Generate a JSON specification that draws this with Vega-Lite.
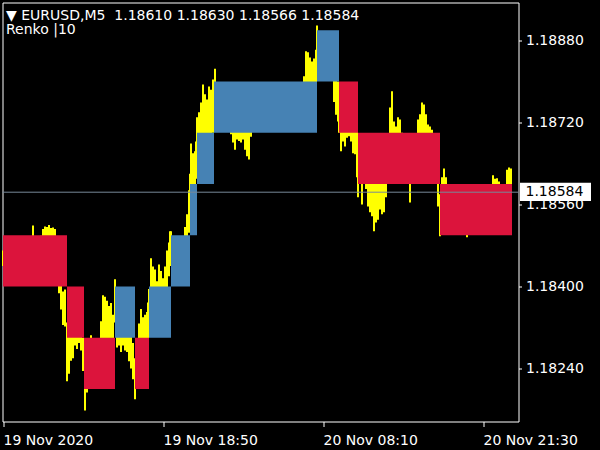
{
"$schema": "https://vega.github.io/schema/vega-lite/v6.json",
"width": 516,
"height": 419,
"autosize": {"type": "none"},
"padding": {"left": 2.5, "top": 2.5, "right": 81.5, "bottom": 28.5},
"background": "black",
"config": {"view": {"stroke": "white", "strokeWidth": 1, "fill": "black"}, "font": "DejaVu Sans"},
"title": {"text": "▼\u00a0EURUSD,M5\u00a0\u00a01.18610 1.18630 1.18566 1.18584", "subtitle": "Renko |10", "anchor": "start", "frame": "group", "orient": "top", "offset": -34, "dx": 3.5, "color": "white", "subtitleColor": "white", "font": "DejaVu Sans", "subtitleFont": "DejaVu Sans", "fontSize": 14, "subtitleFontSize": 14, "fontWeight": "normal", "subtitleFontWeight": "normal", "subtitlePadding": 0},
"datasets": {
"bars": [
{"t":"2020-11-19T05:30Z","low":1.18440,"high":1.18470},
{"t":"2020-11-19T05:40Z","low":1.18430,"high":1.18460},
{"t":"2020-11-19T05:50Z","low":1.18420,"high":1.18455},
{"t":"2020-11-19T06:00Z","low":1.18430,"high":1.18465},
{"t":"2020-11-19T06:10Z","low":1.18445,"high":1.18475},
{"t":"2020-11-19T06:20Z","low":1.18450,"high":1.18480},
{"t":"2020-11-19T06:30Z","low":1.18440,"high":1.18470},
{"t":"2020-11-19T06:40Z","low":1.18430,"high":1.18462},
{"t":"2020-11-19T06:50Z","low":1.18425,"high":1.18455},
{"t":"2020-11-19T07:00Z","low":1.18435,"high":1.18470},
{"t":"2020-11-19T07:10Z","low":1.18450,"high":1.18482},
{"t":"2020-11-19T07:20Z","low":1.18460,"high":1.18490},
{"t":"2020-11-19T07:30Z","low":1.18455,"high":1.18488},
{"t":"2020-11-19T07:40Z","low":1.18465,"high":1.18495},
{"t":"2020-11-19T07:50Z","low":1.18470,"high":1.18498},
{"t":"2020-11-19T08:00Z","low":1.18480,"high":1.18519},
{"t":"2020-11-19T08:10Z","low":1.18470,"high":1.18495},
{"t":"2020-11-19T08:20Z","low":1.18460,"high":1.18490},
{"t":"2020-11-19T08:30Z","low":1.18465,"high":1.18494},
{"t":"2020-11-19T08:40Z","low":1.18475,"high":1.18499},
{"t":"2020-11-19T08:50Z","low":1.18480,"high":1.18512},
{"t":"2020-11-19T09:00Z","low":1.18485,"high":1.18517},
{"t":"2020-11-19T09:10Z","low":1.18488,"high":1.18516},
{"t":"2020-11-19T09:20Z","low":1.18480,"high":1.18520},
{"t":"2020-11-19T09:30Z","low":1.18475,"high":1.18514},
{"t":"2020-11-19T09:40Z","low":1.18478,"high":1.18515},
{"t":"2020-11-19T09:50Z","low":1.18470,"high":1.18512},
{"t":"2020-11-19T10:00Z","low":1.18430,"high":1.18490},
{"t":"2020-11-19T10:10Z","low":1.18387,"high":1.18450},
{"t":"2020-11-19T10:20Z","low":1.18355,"high":1.18420},
{"t":"2020-11-19T10:30Z","low":1.18325,"high":1.18390},
{"t":"2020-11-19T10:40Z","low":1.18322,"high":1.18394},
{"t":"2020-11-19T10:50Z","low":1.18215,"high":1.18330},
{"t":"2020-11-19T11:00Z","low":1.18230,"high":1.18310},
{"t":"2020-11-19T11:10Z","low":1.18255,"high":1.18320},
{"t":"2020-11-19T11:20Z","low":1.18260,"high":1.18330},
{"t":"2020-11-19T11:30Z","low":1.18285,"high":1.18340},
{"t":"2020-11-19T11:40Z","low":1.18278,"high":1.18330},
{"t":"2020-11-19T11:50Z","low":1.18290,"high":1.18345},
{"t":"2020-11-19T12:00Z","low":1.18275,"high":1.18330},
{"t":"2020-11-19T12:10Z","low":1.18235,"high":1.18300},
{"t":"2020-11-19T12:20Z","low":1.18158,"high":1.18260},
{"t":"2020-11-19T12:30Z","low":1.18193,"high":1.18250},
{"t":"2020-11-19T12:40Z","low":1.18210,"high":1.18265},
{"t":"2020-11-19T12:50Z","low":1.18240,"high":1.18305},
{"t":"2020-11-19T13:00Z","low":1.18230,"high":1.18290},
{"t":"2020-11-19T13:10Z","low":1.18240,"high":1.18285},
{"t":"2020-11-19T13:20Z","low":1.18250,"high":1.18295},
{"t":"2020-11-19T13:30Z","low":1.18265,"high":1.18298},
{"t":"2020-11-19T13:40Z","low":1.18280,"high":1.18332},
{"t":"2020-11-19T13:50Z","low":1.18290,"high":1.18383},
{"t":"2020-11-19T14:00Z","low":1.18295,"high":1.18380},
{"t":"2020-11-19T14:10Z","low":1.18290,"high":1.18372},
{"t":"2020-11-19T14:20Z","low":1.18295,"high":1.18362},
{"t":"2020-11-19T14:30Z","low":1.18290,"high":1.18368},
{"t":"2020-11-19T14:40Z","low":1.18285,"high":1.18345},
{"t":"2020-11-19T14:50Z","low":1.18330,"high":1.18414},
{"t":"2020-11-19T15:00Z","low":1.18281,"high":1.18360},
{"t":"2020-11-19T15:10Z","low":1.18285,"high":1.18350},
{"t":"2020-11-19T15:20Z","low":1.18272,"high":1.18340},
{"t":"2020-11-19T15:30Z","low":1.18285,"high":1.18345},
{"t":"2020-11-19T15:40Z","low":1.18275,"high":1.18335},
{"t":"2020-11-19T15:50Z","low":1.18272,"high":1.18330},
{"t":"2020-11-19T16:00Z","low":1.18254,"high":1.18320},
{"t":"2020-11-19T16:10Z","low":1.18240,"high":1.18305},
{"t":"2020-11-19T16:20Z","low":1.18219,"high":1.18290},
{"t":"2020-11-19T16:30Z","low":1.18180,"high":1.18260},
{"t":"2020-11-19T16:40Z","low":1.18230,"high":1.18290},
{"t":"2020-11-19T16:50Z","low":1.18260,"high":1.18328},
{"t":"2020-11-19T17:00Z","low":1.18270,"high":1.18356},
{"t":"2020-11-19T17:10Z","low":1.18280,"high":1.18340},
{"t":"2020-11-19T17:20Z","low":1.18285,"high":1.18345},
{"t":"2020-11-19T17:30Z","low":1.18290,"high":1.18350},
{"t":"2020-11-19T17:35Z","low":1.18295,"high":1.18369},
{"t":"2020-11-19T17:40Z","low":1.18310,"high":1.18395},
{"t":"2020-11-19T17:50Z","low":1.18340,"high":1.18455},
{"t":"2020-11-19T18:00Z","low":1.18360,"high":1.18439},
{"t":"2020-11-19T18:10Z","low":1.18370,"high":1.18433},
{"t":"2020-11-19T18:20Z","low":1.18365,"high":1.18410},
{"t":"2020-11-19T18:30Z","low":1.18380,"high":1.18443},
{"t":"2020-11-19T18:40Z","low":1.18370,"high":1.18430},
{"t":"2020-11-19T18:50Z","low":1.18360,"high":1.18416},
{"t":"2020-11-19T19:00Z","low":1.18375,"high":1.18439},
{"t":"2020-11-19T19:10Z","low":1.18395,"high":1.18470},
{"t":"2020-11-19T19:20Z","low":1.18420,"high":1.18486},
{"t":"2020-11-19T19:25Z","low":1.18440,"high":1.18508},
{"t":"2020-11-19T19:30Z","low":1.18450,"high":1.18508},
{"t":"2020-11-19T19:40Z","low":1.18445,"high":1.18495},
{"t":"2020-11-19T19:50Z","low":1.18440,"high":1.18490},
{"t":"2020-11-19T20:00Z","low":1.18450,"high":1.18495},
{"t":"2020-11-19T20:10Z","low":1.18455,"high":1.18490},
{"t":"2020-11-19T20:20Z","low":1.18460,"high":1.18494},
{"t":"2020-11-19T20:30Z","low":1.18465,"high":1.18497},
{"t":"2020-11-19T20:40Z","low":1.18470,"high":1.18516},
{"t":"2020-11-19T20:50Z","low":1.18490,"high":1.18541},
{"t":"2020-11-19T21:00Z","low":1.18505,"high":1.18588},
{"t":"2020-11-19T21:05Z","low":1.18540,"high":1.18620},
{"t":"2020-11-19T21:10Z","low":1.18560,"high":1.18679},
{"t":"2020-11-19T21:20Z","low":1.18590,"high":1.18660},
{"t":"2020-11-19T21:30Z","low":1.18600,"high":1.18664},
{"t":"2020-11-19T21:35Z","low":1.18610,"high":1.18683},
{"t":"2020-11-19T21:40Z","low":1.18640,"high":1.18730},
{"t":"2020-11-19T21:50Z","low":1.18660,"high":1.18740},
{"t":"2020-11-19T22:00Z","low":1.18680,"high":1.18759},
{"t":"2020-11-19T22:10Z","low":1.18690,"high":1.18794},
{"t":"2020-11-19T22:20Z","low":1.18695,"high":1.18775},
{"t":"2020-11-19T22:30Z","low":1.18690,"high":1.18765},
{"t":"2020-11-19T22:40Z","low":1.18695,"high":1.18790},
{"t":"2020-11-19T22:50Z","low":1.18698,"high":1.18784},
{"t":"2020-11-19T23:00Z","low":1.18700,"high":1.18804},
{"t":"2020-11-19T23:10Z","low":1.18730,"high":1.18825},
{"t":"2020-11-19T23:20Z","low":1.18745,"high":1.18790},
{"t":"2020-11-19T23:40Z","low":1.18740,"high":1.18785},
{"t":"2020-11-20T00:00Z","low":1.18730,"high":1.18780},
{"t":"2020-11-20T00:20Z","low":1.18715,"high":1.18765},
{"t":"2020-11-20T00:30Z","low":1.18697,"high":1.18750},
{"t":"2020-11-20T00:40Z","low":1.18681,"high":1.18740},
{"t":"2020-11-20T00:50Z","low":1.18667,"high":1.18730},
{"t":"2020-11-20T01:00Z","low":1.18687,"high":1.18735},
{"t":"2020-11-20T01:10Z","low":1.18684,"high":1.18740},
{"t":"2020-11-20T01:20Z","low":1.18681,"high":1.18735},
{"t":"2020-11-20T01:30Z","low":1.18687,"high":1.18738},
{"t":"2020-11-20T01:40Z","low":1.18667,"high":1.18730},
{"t":"2020-11-20T01:50Z","low":1.18654,"high":1.18720},
{"t":"2020-11-20T02:00Z","low":1.18648,"high":1.18715},
{"t":"2020-11-20T02:10Z","low":1.18692,"high":1.18740},
{"t":"2020-11-20T02:30Z","low":1.18710,"high":1.18755},
{"t":"2020-11-20T03:00Z","low":1.18720,"high":1.18770},
{"t":"2020-11-20T03:30Z","low":1.18730,"high":1.18775},
{"t":"2020-11-20T04:00Z","low":1.18735,"high":1.18780},
{"t":"2020-11-20T04:30Z","low":1.18745,"high":1.18790},
{"t":"2020-11-20T05:00Z","low":1.18740,"high":1.18785},
{"t":"2020-11-20T05:30Z","low":1.18745,"high":1.18790},
{"t":"2020-11-20T06:00Z","low":1.18750,"high":1.18792},
{"t":"2020-11-20T06:20Z","low":1.18755,"high":1.18795},
{"t":"2020-11-20T06:35Z","low":1.18770,"high":1.18810},
{"t":"2020-11-20T06:45Z","low":1.18785,"high":1.18859},
{"t":"2020-11-20T06:55Z","low":1.18790,"high":1.18857},
{"t":"2020-11-20T07:05Z","low":1.18795,"high":1.18847},
{"t":"2020-11-20T07:15Z","low":1.18790,"high":1.18839},
{"t":"2020-11-20T07:25Z","low":1.18785,"high":1.18845},
{"t":"2020-11-20T07:35Z","low":1.18795,"high":1.18862},
{"t":"2020-11-20T07:40Z","low":1.18820,"high":1.18909},
{"t":"2020-11-20T07:50Z","low":1.18830,"high":1.18890},
{"t":"2020-11-20T08:10Z","low":1.18820,"high":1.18880},
{"t":"2020-11-20T08:30Z","low":1.18815,"high":1.18875},
{"t":"2020-11-20T08:50Z","low":1.18805,"high":1.18860},
{"t":"2020-11-20T09:05Z","low":1.18760,"high":1.18830},
{"t":"2020-11-20T09:15Z","low":1.18735,"high":1.18810},
{"t":"2020-11-20T09:25Z","low":1.18722,"high":1.18800},
{"t":"2020-11-20T09:30Z","low":1.18700,"high":1.18780},
{"t":"2020-11-20T09:40Z","low":1.18664,"high":1.18750},
{"t":"2020-11-20T09:50Z","low":1.18683,"high":1.18740},
{"t":"2020-11-20T10:00Z","low":1.18673,"high":1.18745},
{"t":"2020-11-20T10:10Z","low":1.18690,"high":1.18750},
{"t":"2020-11-20T10:20Z","low":1.18693,"high":1.18755},
{"t":"2020-11-20T10:30Z","low":1.18683,"high":1.18745},
{"t":"2020-11-20T10:40Z","low":1.18660,"high":1.18730},
{"t":"2020-11-20T10:50Z","low":1.18658,"high":1.18725},
{"t":"2020-11-20T11:00Z","low":1.18613,"high":1.18710},
{"t":"2020-11-20T11:05Z","low":1.18574,"high":1.18650},
{"t":"2020-11-20T11:15Z","low":1.18610,"high":1.18660},
{"t":"2020-11-20T11:25Z","low":1.18560,"high":1.18640},
{"t":"2020-11-20T11:35Z","low":1.18600,"high":1.18650},
{"t":"2020-11-20T11:45Z","low":1.18590,"high":1.18640},
{"t":"2020-11-20T11:55Z","low":1.18556,"high":1.18630},
{"t":"2020-11-20T12:05Z","low":1.18545,"high":1.18620},
{"t":"2020-11-20T12:15Z","low":1.18537,"high":1.18610},
{"t":"2020-11-20T12:25Z","low":1.18508,"high":1.18605},
{"t":"2020-11-20T12:35Z","low":1.18525,"high":1.18610},
{"t":"2020-11-20T12:45Z","low":1.18530,"high":1.18615},
{"t":"2020-11-20T12:55Z","low":1.18550,"high":1.18620},
{"t":"2020-11-20T13:05Z","low":1.18541,"high":1.18625},
{"t":"2020-11-20T13:15Z","low":1.18545,"high":1.18630},
{"t":"2020-11-20T13:25Z","low":1.18574,"high":1.18640},
{"t":"2020-11-20T13:35Z","low":1.18605,"high":1.18660},
{"t":"2020-11-20T13:45Z","low":1.18660,"high":1.18749},
{"t":"2020-11-20T13:55Z","low":1.18665,"high":1.18781},
{"t":"2020-11-20T14:05Z","low":1.18660,"high":1.18722},
{"t":"2020-11-20T14:15Z","low":1.18665,"high":1.18712},
{"t":"2020-11-20T14:25Z","low":1.18670,"high":1.18730},
{"t":"2020-11-20T14:35Z","low":1.18675,"high":1.18726},
{"t":"2020-11-20T14:45Z","low":1.18660,"high":1.18700},
{"t":"2020-11-20T14:55Z","low":1.18640,"high":1.18690},
{"t":"2020-11-20T15:05Z","low":1.18630,"high":1.18680},
{"t":"2020-11-20T15:15Z","low":1.18620,"high":1.18670},
{"t":"2020-11-20T15:25Z","low":1.18564,"high":1.18650},
{"t":"2020-11-20T15:35Z","low":1.18610,"high":1.18665},
{"t":"2020-11-20T15:45Z","low":1.18630,"high":1.18680},
{"t":"2020-11-20T15:55Z","low":1.18640,"high":1.18690},
{"t":"2020-11-20T16:05Z","low":1.18665,"high":1.18726},
{"t":"2020-11-20T16:15Z","low":1.18680,"high":1.18736},
{"t":"2020-11-20T16:25Z","low":1.18685,"high":1.18759},
{"t":"2020-11-20T16:35Z","low":1.18680,"high":1.18755},
{"t":"2020-11-20T16:45Z","low":1.18675,"high":1.18736},
{"t":"2020-11-20T16:55Z","low":1.18670,"high":1.18716},
{"t":"2020-11-20T17:05Z","low":1.18670,"high":1.18712},
{"t":"2020-11-20T17:15Z","low":1.18650,"high":1.18706},
{"t":"2020-11-20T17:25Z","low":1.18630,"high":1.18690},
{"t":"2020-11-20T17:35Z","low":1.18610,"high":1.18660},
{"t":"2020-11-20T17:45Z","low":1.18556,"high":1.18630},
{"t":"2020-11-20T17:55Z","low":1.18498,"high":1.18580},
{"t":"2020-11-20T18:05Z","low":1.18540,"high":1.18613},
{"t":"2020-11-20T18:15Z","low":1.18560,"high":1.18630},
{"t":"2020-11-20T18:25Z","low":1.18555,"high":1.18613},
{"t":"2020-11-20T18:35Z","low":1.18550,"high":1.18595},
{"t":"2020-11-20T18:55Z","low":1.18540,"high":1.18585},
{"t":"2020-11-20T19:15Z","low":1.18535,"high":1.18580},
{"t":"2020-11-20T19:35Z","low":1.18530,"high":1.18575},
{"t":"2020-11-20T19:55Z","low":1.18520,"high":1.18570},
{"t":"2020-11-20T20:10Z","low":1.18496,"high":1.18560},
{"t":"2020-11-20T20:30Z","low":1.18520,"high":1.18570},
{"t":"2020-11-20T20:50Z","low":1.18530,"high":1.18580},
{"t":"2020-11-20T21:10Z","low":1.18540,"high":1.18585},
{"t":"2020-11-20T21:30Z","low":1.18545,"high":1.18590},
{"t":"2020-11-20T21:50Z","low":1.18550,"high":1.18592},
{"t":"2020-11-20T22:10Z","low":1.18555,"high":1.18595},
{"t":"2020-11-20T22:20Z","low":1.18560,"high":1.18617},
{"t":"2020-11-20T22:30Z","low":1.18565,"high":1.18610},
{"t":"2020-11-20T22:40Z","low":1.18570,"high":1.18611},
{"t":"2020-11-20T22:50Z","low":1.18565,"high":1.18605},
{"t":"2020-11-20T23:00Z","low":1.18560,"high":1.18598},
{"t":"2020-11-20T23:10Z","low":1.18565,"high":1.18596},
{"t":"2020-11-20T23:20Z","low":1.18570,"high":1.18598},
{"t":"2020-11-20T23:30Z","low":1.18580,"high":1.18628},
{"t":"2020-11-20T23:40Z","low":1.18585,"high":1.18632},
{"t":"2020-11-20T23:50Z","low":1.18575,"high":1.18630}
],
"boxes": [
{"start":"2020-11-19T05:30Z","end":"2020-11-19T10:50Z","lo":1.184,"hi":1.185,"dir":"down"},
{"start":"2020-11-19T10:50Z","end":"2020-11-19T12:15Z","lo":1.183,"hi":1.184,"dir":"down"},
{"start":"2020-11-19T12:15Z","end":"2020-11-19T14:50Z","lo":1.182,"hi":1.183,"dir":"down"},
{"start":"2020-11-19T14:50Z","end":"2020-11-19T16:30Z","lo":1.183,"hi":1.184,"dir":"up"},
{"start":"2020-11-19T16:30Z","end":"2020-11-19T17:40Z","lo":1.182,"hi":1.183,"dir":"down"},
{"start":"2020-11-19T17:40Z","end":"2020-11-19T19:30Z","lo":1.183,"hi":1.184,"dir":"up"},
{"start":"2020-11-19T19:30Z","end":"2020-11-19T21:05Z","lo":1.184,"hi":1.185,"dir":"up"},
{"start":"2020-11-19T21:05Z","end":"2020-11-19T21:40Z","lo":1.185,"hi":1.186,"dir":"up"},
{"start":"2020-11-19T21:40Z","end":"2020-11-19T23:05Z","lo":1.186,"hi":1.187,"dir":"up"},
{"start":"2020-11-19T23:05Z","end":"2020-11-20T07:40Z","lo":1.187,"hi":1.188,"dir":"up"},
{"start":"2020-11-20T07:40Z","end":"2020-11-20T09:30Z","lo":1.188,"hi":1.189,"dir":"up"},
{"start":"2020-11-20T09:30Z","end":"2020-11-20T11:05Z","lo":1.187,"hi":1.188,"dir":"down"},
{"start":"2020-11-20T11:05Z","end":"2020-11-20T17:55Z","lo":1.186,"hi":1.187,"dir":"down"},
{"start":"2020-11-20T17:55Z","end":"2020-11-20T23:55Z","lo":1.185,"hi":1.186,"dir":"down"}
],
"bid": [{"price": 1.18584, "label": "1.18584"}]
},
"layer": [
{
"data": {"name": "bars"},
"mark": {"type": "rule", "color": "#FFFF00", "strokeWidth": 2},
"encoding": {
"x": {"field": "t", "type": "temporal",
"scale": {"type": "utc", "nice": false, "domain": [{"year": 2020, "month": 11, "date": 19, "hours": 5, "minutes": 27, "seconds": 30, "utc": true}, {"year": 2020, "month": 11, "date": 21, "hours": 0, "minutes": 27, "seconds": 30, "utc": true}]},
"axis": {"title": null, "orient": "bottom", "grid": false, "domain": false,
"values": [{"year": 2020, "month": 11, "date": 19, "hours": 5, "minutes": 30, "utc": true}, {"year": 2020, "month": 11, "date": 19, "hours": 18, "minutes": 50, "utc": true}, {"year": 2020, "month": 11, "date": 20, "hours": 8, "minutes": 10, "utc": true}, {"year": 2020, "month": 11, "date": 20, "hours": 21, "minutes": 30, "utc": true}],
"labelExpr": "utcFormat(datum.value, '%H:%M') == '05:30' ? utcFormat(datum.value, '%d %b %Y') : utcFormat(datum.value, '%d %b %H:%M')",
"tickColor": "white", "tickSize": 5, "tickWidth": 1, "labelColor": "white", "labelFont": "DejaVu Sans", "labelFontSize": 14, "labelAlign": "left", "labelPadding": 7, "labelFlush": false, "labelOverlap": false, "labelBound": false}},
"y": {"field": "low", "type": "quantitative",
"scale": {"domain": [1.181366, 1.189541], "nice": false, "zero": false},
"axis": {"title": null, "orient": "right", "grid": false, "domain": false, "values": [1.1824, 1.184, 1.1856, 1.1872, 1.1888], "format": ".5f", "tickColor": "white", "tickSize": 3, "labelColor": "white", "labelFont": "DejaVu Sans", "labelFontSize": 14, "labelPadding": 4, "labelOverlap": false, "labelBound": false}},
"y2": {"field": "high"}
}
},
{
"data": {"name": "boxes"},
"mark": {"type": "rect"},
"encoding": {
"x": {"field": "start", "type": "temporal"},
"x2": {"field": "end"},
"y": {"field": "lo", "type": "quantitative"},
"y2": {"field": "hi"},
"color": {"field": "dir", "type": "nominal", "scale": {"domain": ["down", "up"], "range": ["#DC143C", "#4682B4"]}, "legend": null}
}
},
{
"data": {"name": "bid"},
"mark": {"type": "rule", "color": "#778899", "strokeWidth": 1},
"encoding": {"y": {"field": "price", "type": "quantitative"}}
},
{
"data": {"name": "bid"},
"mark": {"type": "rect", "color": "white"},
"encoding": {
"x": {"datum": {"year": 2020, "month": 11, "date": 21, "hours": 0, "minutes": 35, "utc": true}, "type": "temporal"},
"x2": {"datum": {"year": 2020, "month": 11, "date": 21, "hours": 6, "minutes": 30, "utc": true}},
"y": {"datum": 1.186025, "type": "quantitative"},
"y2": {"datum": 1.185668}
}
},
{
"data": {"name": "bid"},
"mark": {"type": "text", "color": "black", "align": "left", "baseline": "middle", "font": "DejaVu Sans", "fontSize": 14},
"encoding": {
"x": {"datum": {"year": 2020, "month": 11, "date": 21, "hours": 1, "minutes": 2, "seconds": 30, "utc": true}, "type": "temporal"},
"y": {"field": "price", "type": "quantitative"},
"text": {"field": "label"}
}
}
]
}
